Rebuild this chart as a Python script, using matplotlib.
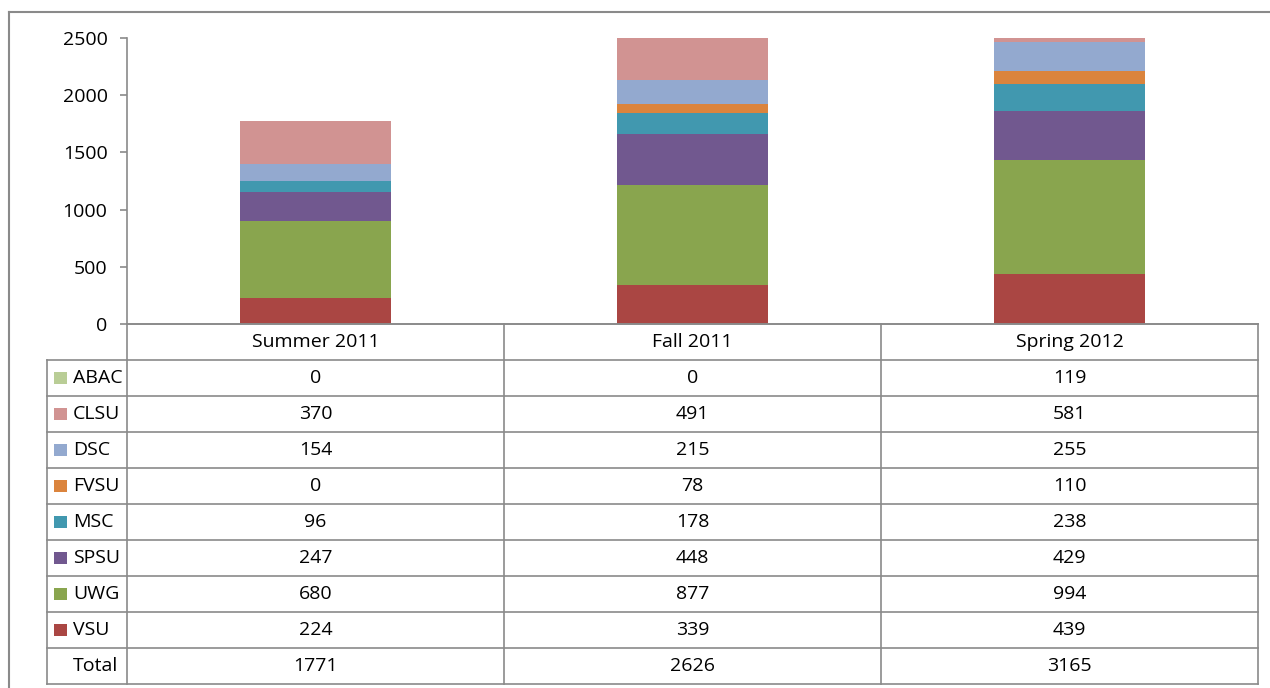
import numpy as np
import matplotlib.pyplot as plt
from matplotlib.lines import Line2D
from matplotlib.patches import Rectangle

plt.rcParams['font.family'] = ['Open Sans', 'DejaVu Sans']

terms = ['Summer 2011', 'Fall 2011', 'Spring 2012']
# stacking order, bottom to top
schools = ['VSU', 'UWG', 'SPSU', 'MSC', 'FVSU', 'DSC', 'CLSU', 'ABAC']
vsu = [224, 339, 439]
uwg = [680, 877, 994]
spsu = [247, 448, 429]
msc = [96, 178, 238]
fvsu = [0, 78, 110]
dsc = [154, 215, 255]
clsu = [370, 491, 581]
abac = [0, 0, 119]
totals = [1771, 2626, 3165]
colors = ['#AA4643', '#89A54E', '#71588F', '#4198AF', '#DB843D', '#93A9CF', '#D19392', '#B9CD96']

series = [vsu, uwg, spsu, msc, fvsu, dsc, clsu, abac]
grid_col = '#8a8a8a'
W, H = 1270, 688

fig = plt.figure(figsize=(W / 100, H / 100), dpi=100)

# chart area
ax = fig.add_axes([127 / W, 1 - 324 / H, (1258 - 127) / W, (324 - 38) / H])
x = np.arange(len(terms))
bottom = np.zeros(len(terms))
for vals, c in zip(series, colors):
    ax.bar(x, vals, 0.4, bottom=bottom, color=c, linewidth=0)
    bottom += np.array(vals)
ax.set_xlim(-0.5, len(terms) - 0.5)
ax.set_ylim(0, 2500)
ax.set_yticks(np.arange(0, 2501, 500))
ax.set_xticks([])
ax.tick_params(axis='y', length=5, width=1.2, color=grid_col, pad=9, labelsize=14)
for s in ['top', 'right']:
    ax.spines[s].set_visible(False)
for s in ['left', 'bottom']:
    ax.spines[s].set_color(grid_col)
    ax.spines[s].set_linewidth(1.2)

# data table under the chart
n_rows = len(schools) + 1
tx = fig.add_axes([47 / W, 1 - 684 / H, (1258 - 47) / W, (684 - 324) / H])
lab_w = 80 / 377
tx.set_xlim(-lab_w, len(terms))
tx.set_ylim(n_rows + 1, 0)
tx.axis('off')

lw = 1.2
# header row
tx.plot([0, len(terms)], [0, 0], color=grid_col, lw=lw, clip_on=False)
for i, t in enumerate(terms):
    tx.text(i + 0.5, 0.5, t, ha='center', va='center', fontsize=14)
# horizontal lines
for r in range(1, n_rows + 2):
    tx.plot([-lab_w, len(terms)], [r, r], color=grid_col, lw=lw, clip_on=False)
# vertical lines
tx.plot([-lab_w, -lab_w], [1, n_rows + 1], color=grid_col, lw=lw, clip_on=False)
for i in range(len(terms) + 1):
    tx.plot([i, i], [0, n_rows + 1], color=grid_col, lw=lw, clip_on=False)

# rows listed top to bottom: reverse of stacking order
row_names = schools[::-1] + ['Total']
row_vals = series[::-1] + [totals]
row_cols = colors[::-1] + [None]
sq = 13 / 377
for r, (name, vals, c) in enumerate(zip(row_names, row_vals, row_cols)):
    yc = r + 1.5
    if c is not None:
        tx.add_patch(Rectangle((-lab_w + 7 / 377, yc - 0.18), sq, 0.36, color=c, lw=0))
    tx.text(-lab_w + 26 / 377, yc, name, ha='left', va='center', fontsize=14)
    for i, v in enumerate(vals):
        tx.text(i + 0.5, yc, str(v), ha='center', va='center', fontsize=14)

# outer chart frame (runs off the right and bottom edges)
fig.add_artist(Line2D([9 / W, 1.0], [1 - 12 / H, 1 - 12 / H], color=grid_col, lw=1.5))
fig.add_artist(Line2D([9 / W, 9 / W], [0, 1 - 12 / H], color=grid_col, lw=1.5))

fig.savefig('out.png', dpi=100)
